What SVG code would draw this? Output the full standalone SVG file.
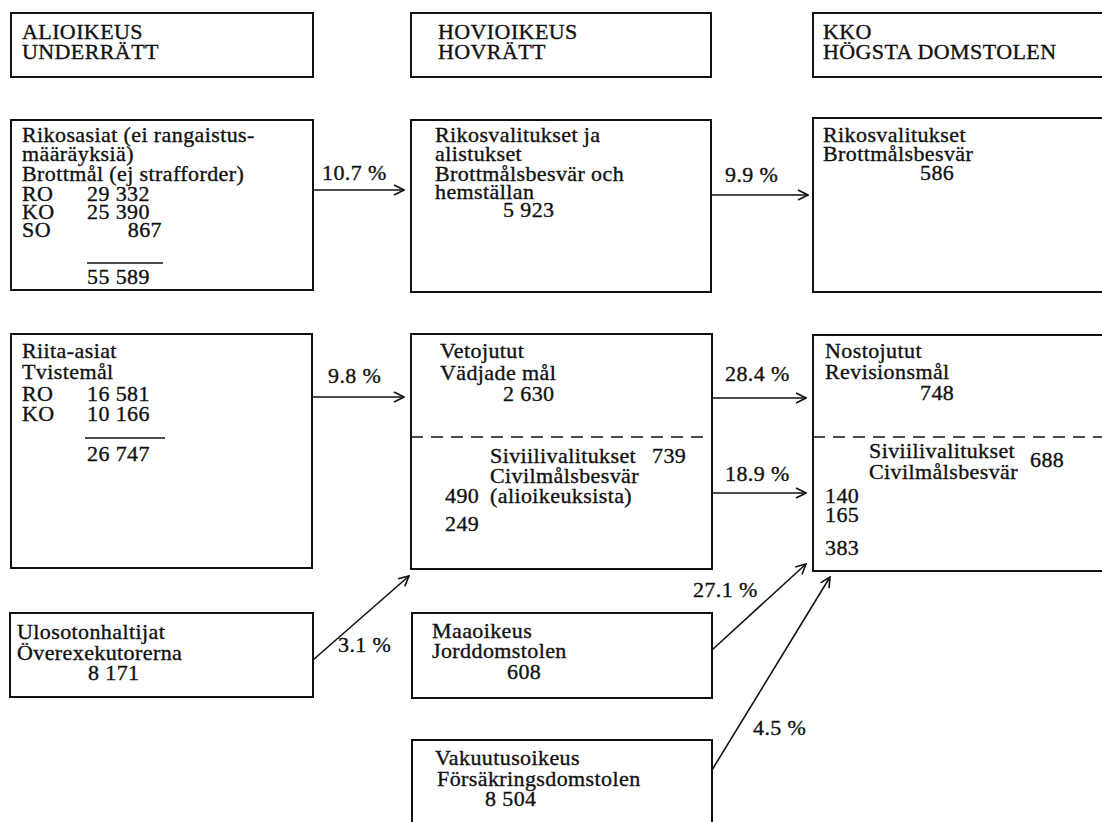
<svg xmlns="http://www.w3.org/2000/svg" width="1102" height="822" viewBox="0 0 1102 822">
<defs>
<style>
text{font-family:"Liberation Serif","Times New Roman",serif;font-size:22px;fill:#111;stroke:#111;stroke-width:0.35;letter-spacing:0.4px}
.box{fill:none;stroke:#111;stroke-width:2}
.dash{stroke:#111;stroke-width:1.6;stroke-dasharray:12,8;fill:none}
.rule{stroke:#111;stroke-width:1.6}
.arr{stroke:#111;stroke-width:1.6;fill:none;marker-end:url(#ah)}
</style>
<marker id="ah" viewBox="0 0 12 12" refX="11" refY="6" markerWidth="12" markerHeight="12" markerUnits="userSpaceOnUse" orient="auto">
<path d="M1,1 L11,6 L1,11" fill="none" stroke="#111" stroke-width="1.6"/>
</marker>
</defs>
<rect width="1102" height="822" fill="#fff"/>

<g id="hdr-alioikeus">
<rect class="box" x="11" y="13" width="302" height="64"/>
<text x="22" y="39">ALIOIKEUS</text>
<text x="22" y="59">UNDERRÄTT</text>
</g>
<g id="hdr-hovioikeus">
<rect class="box" x="411" y="13" width="300" height="64"/>
<text x="438" y="39">HOVIOIKEUS</text>
<text x="438" y="59">HOVRÄTT</text>
</g>
<g id="hdr-kko">
<rect class="box" x="813" y="13" width="300" height="64"/>
<text x="823" y="39">KKO</text>
<text x="823" y="59">HÖGSTA DOMSTOLEN</text>
</g>

<g id="a-rikos">
<rect class="box" x="11" y="120" width="302" height="170"/>
<text x="22" y="142">Rikosasiat (ei rangaistus-</text>
<text x="22" y="161">määräyksiä)</text>
<text x="22" y="181">Brottmål (ej strafforder)</text>
<text x="22" y="201">RO</text><text x="87" y="201">29 332</text>
<text x="22" y="219">KO</text><text x="87" y="219">25 390</text>
<text x="22" y="237">SO</text><text x="162" y="237" text-anchor="end">867</text>
<line class="rule" x1="87" y1="263" x2="163" y2="263"/>
<text x="87" y="284">55 589</text>
</g>
<g id="b-rikos">
<rect class="box" x="411" y="120" width="300" height="172"/>
<text x="435" y="142">Rikosvalitukset ja</text>
<text x="435" y="161">alistukset</text>
<text x="435" y="181">Brottmålsbesvär och</text>
<text x="435" y="199">hemställan</text>
<text x="503" y="217">5 923</text>
</g>
<g id="c-rikos">
<rect class="box" x="813" y="118" width="300" height="174"/>
<text x="823" y="142">Rikosvalitukset</text>
<text x="823" y="161">Brottmålsbesvär</text>
<text x="920" y="180">586</text>
</g>

<g id="a-riita">
<rect class="box" x="11" y="334" width="301" height="234"/>
<text x="22" y="358">Riita-asiat</text>
<text x="22" y="379">Tvistemål</text>
<text x="22" y="401">RO</text><text x="87" y="401">16 581</text>
<text x="22" y="421">KO</text><text x="87" y="421">10 166</text>
<line class="rule" x1="85" y1="438" x2="165" y2="438"/>
<text x="87" y="461">26 747</text>
</g>
<g id="b-veto">
<rect class="box" x="411" y="334" width="301" height="235"/>
<line class="dash" x1="411" y1="437" x2="712" y2="437"/>
<text x="440" y="358">Vetojutut</text>
<text x="440" y="380">Vädjade mål</text>
<text x="503" y="401">2 630</text>
<text x="490" y="463">Siviilivalitukset</text>
<text x="652" y="463">739</text>
<text x="490" y="483">Civilmålsbesvär</text>
<text x="445" y="503">490</text>
<text x="490" y="503">(alioikeuksista)</text>
<text x="445" y="531">249</text>
</g>
<g id="c-nosto">
<rect class="box" x="813" y="335" width="300" height="236"/>
<line class="dash" x1="813" y1="437" x2="1113" y2="437"/>
<text x="825" y="358">Nostojutut</text>
<text x="825" y="379">Revisionsmål</text>
<text x="920" y="400">748</text>
<text x="869" y="458">Siviilivalitukset</text>
<text x="869" y="479">Civilmålsbesvär</text>
<text x="1030" y="467">688</text>
<text x="825" y="503">140</text>
<text x="825" y="522">165</text>
<text x="825" y="555">383</text>
</g>

<g id="a-ulosotto">
<rect class="box" x="10" y="613" width="303" height="84"/>
<text x="17" y="639">Ulosotonhaltijat</text>
<text x="17" y="660">Överexekutorerna</text>
<text x="88" y="680">8 171</text>
</g>
<g id="b-maaoikeus">
<rect class="box" x="412" y="613" width="300" height="85"/>
<text x="432" y="638">Maaoikeus</text>
<text x="432" y="658">Jorddomstolen</text>
<text x="507" y="679">608</text>
</g>
<g id="b-vakuutus">
<rect class="box" x="412" y="740" width="300" height="95"/>
<text x="435" y="765">Vakuutusoikeus</text>
<text x="437" y="786">Försäkringsdomstolen</text>
<text x="485" y="806">8 504</text>
</g>

<g id="connectors">
<line class="arr" x1="313" y1="190" x2="404" y2="190"/>
<line class="arr" x1="711" y1="195" x2="808" y2="195"/>
<line class="arr" x1="312" y1="397" x2="404" y2="397"/>
<line class="arr" x1="712" y1="398" x2="806" y2="398"/>
<line class="arr" x1="712" y1="493" x2="806" y2="493"/>
<line class="arr" x1="313" y1="660" x2="409" y2="576"/>
<line class="arr" x1="712" y1="650" x2="806" y2="564"/>
<line class="arr" x1="712" y1="770" x2="830" y2="577"/>
<text x="322" y="180">10.7 %</text>
<text x="725" y="182">9.9 %</text>
<text x="328" y="383">9.8 %</text>
<text x="725" y="381">28.4 %</text>
<text x="725" y="481">18.9 %</text>
<text x="338" y="652">3.1 %</text>
<text x="693" y="597">27.1 %</text>
<text x="753" y="735">4.5 %</text>
</g>
</svg>
